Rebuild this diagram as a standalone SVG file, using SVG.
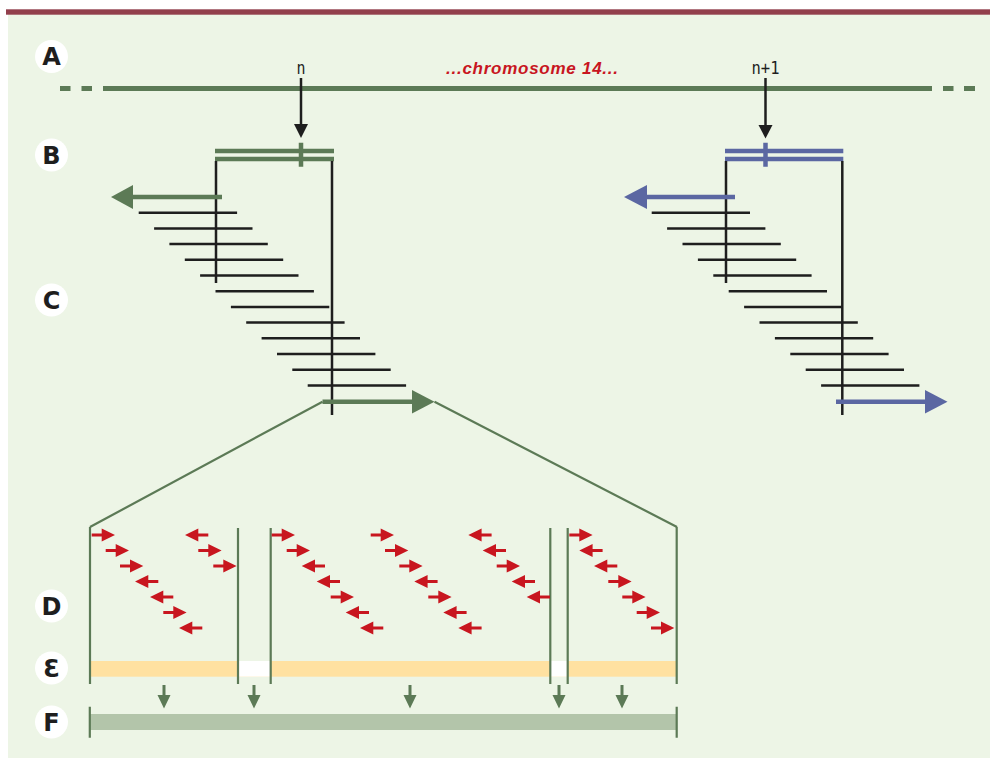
<svg xmlns="http://www.w3.org/2000/svg" xmlns:xlink="http://www.w3.org/1999/xlink" width="990" height="758" viewBox="0 0 990 758">
<defs>
<style>
.lbl-c{fill:#ffffff}
.lbl-t{font-family:"DejaVu Sans","Liberation Sans",sans-serif;font-weight:900;font-size:24px;fill:#1e1e1e;text-anchor:middle}
.chr{stroke:#5c7a56;stroke-width:5;fill:none}
.gr{stroke:#5c7a56;stroke-width:4.5;fill:none}
.bl{stroke:#5b67a2;stroke-width:4.5;fill:none}
.blk{stroke:#1e1e1e;stroke-width:2.5;fill:none}
.zm{stroke:#5c7a56;stroke-width:2.2;fill:none}
.pos{font-family:"DejaVu Sans Mono","Liberation Mono",monospace;font-size:18px;fill:#1e1e1e;text-anchor:middle}
.red{fill:#c8161f}
</style>
<path id="ra" d="M0,-1.6 H10 V-6.6 L23.3,0 L10,6.6 V1.6 H0 Z"/>
<path id="la" d="M23.3,-1.6 H13.3 V-6.6 L0,0 L13.3,6.6 V1.6 H23.3 Z"/>
<path id="da" d="M-1.5,0 H1.5 V10 H6.5 L0,23.5 L-6.5,10 H-1.5 Z"/>
</defs>

<rect x="8" y="14" width="982" height="744" fill="#edf5e6"/>
<rect x="6" y="9.3" width="984" height="5.4" fill="#923f4c"/>

<g id="labels">
<g id="label-A"><circle class="lbl-c" cx="51.5" cy="56.5" r="16.5"/><text class="lbl-t" x="51.5" y="65">A</text></g>
<g id="label-B"><circle class="lbl-c" cx="51.5" cy="155" r="16.5"/><text class="lbl-t" x="51.5" y="163.5">B</text></g>
<g id="label-C"><circle class="lbl-c" cx="51.5" cy="300" r="16.5"/><text class="lbl-t" x="51.5" y="308.5">C</text></g>
<g id="label-D"><circle class="lbl-c" cx="51.5" cy="606" r="16.5"/><text class="lbl-t" x="51.5" y="614.5">D</text></g>
<g id="label-E"><circle class="lbl-c" cx="51.5" cy="668" r="16.5"/><text class="lbl-t" x="51.5" y="676.5">Ɛ</text></g>
<g id="label-F"><circle class="lbl-c" cx="51.5" cy="722" r="16.5"/><text class="lbl-t" x="51.5" y="730.5">F</text></g>
</g>

<g id="chromosome">
<path class="chr" d="M60,88.5 H70.5 M81.5,88.5 H92 M103,88.5 H932 M943,88.5 H953.5 M964,88.5 H975"/>
<text x="532" y="74" text-anchor="middle" textLength="172" lengthAdjust="spacing" font-family="Liberation Sans, Arial, sans-serif" font-weight="bold" font-style="italic" font-size="17" fill="#c8161f">...chromosome 14...</text>
<text class="pos" x="301" y="73.5" textLength="9" lengthAdjust="spacingAndGlyphs">n</text>
<text class="pos" x="765.5" y="73.5" textLength="28" lengthAdjust="spacingAndGlyphs">n+1</text>
</g>

<g id="locus-n">
<path class="gr" d="M215,151 H334 M215,159 H334 M301,142.7 V166.7"/>
<path class="blk" d="M216,161 V283 M332,161 V415"/>
<path class="blk" d="M138.7,212.7 H237.1 M154.1,228.4 H252.5 M169.4,244.1 H267.8 M184.8,259.8 H283.2 M200.1,275.5 H298.5 M215.5,291.2 H313.9 M230.9,306.9 H329.3 M246.2,322.6 H344.6 M261.6,338.3 H360 M277,354 H375.4 M292.3,369.7 H390.7 M307.7,385.4 H406.1"/>
<path class="gr" d="M222,197 H131"/>
<polygon points="111,197 133,185 133,209" fill="#5c7a56"/>
<path class="gr" d="M322.5,401.7 H413"/>
<polygon points="412,390 434.5,401.7 412,413.4" fill="#5c7a56"/>
</g>

<g id="locus-n1">
<path class="bl" d="M725,151 H843.3 M725,159 H843.3 M765.5,142.7 V166.7"/>
<path class="blk" d="M726,161 V283 M842.3,161 V415"/>
<path class="blk" d="M651.7,212.7 H750 M667.1,228.4 H765.4 M682.5,244.1 H780.8 M697.9,259.8 H796.2 M713.3,275.5 H811.6 M728.7,291.2 H827 M744.1,306.9 H842.4 M759.5,322.6 H857.8 M774.9,338.3 H873.2 M790.3,354 H888.6 M805.7,369.7 H904 M821.1,385.4 H919.4"/>
<path class="bl" d="M735,197 H645"/>
<polygon points="624,197 647,185 647,209" fill="#5b67a2"/>
<path class="bl" d="M836,401.7 H927"/>
<polygon points="925,390 947.5,401.7 925,413.4" fill="#5b67a2"/>
</g>

<g id="connectors">
<path class="blk" d="M301,78 V126"/>
<polygon points="294,124 308,124 301,138" fill="#1e1e1e"/>
<path class="blk" d="M765.5,78 V127"/>
<polygon points="758.5,125 772.5,125 765.5,138.5" fill="#1e1e1e"/>
<path class="zm" d="M322.5,401.7 L90,527 M434.5,401.7 L677,527"/>
<g fill="#5c7a56">
<use xlink:href="#da" x="164" y="685"/>
<use xlink:href="#da" x="254" y="685"/>
<use xlink:href="#da" x="410" y="685"/>
<use xlink:href="#da" x="559" y="685"/>
<use xlink:href="#da" x="622" y="685"/>
</g>
</g>

<g id="exon-bar">
<rect x="90" y="661" width="587" height="15.7" fill="#ffe1a1"/>
<rect x="238" y="661" width="32.7" height="15.7" fill="#ffffff"/>
<rect x="550.3" y="661" width="17.4" height="15.7" fill="#ffffff"/>
</g>

<g id="transcript-bar">
<rect x="90" y="714" width="587" height="16" fill="#b3c5aa"/>
<path class="zm" d="M89.8,706.7 V737.7 M676.7,706.7 V737.7"/>
</g>

<g id="segments">
<path class="zm" d="M90,527 V684 M238,528 V684 M270.7,528 V684 M550.3,528 V684 M567.7,528 V684 M676.7,527 V684"/>
</g>

<g id="reads" class="red">
<use xlink:href="#ra" x="91.7" y="535"/>
<use xlink:href="#ra" x="105.7" y="550.5"/>
<use xlink:href="#ra" x="120" y="566"/>
<use xlink:href="#la" x="135" y="581.5"/>
<use xlink:href="#la" x="150" y="597"/>
<use xlink:href="#ra" x="163.3" y="612.5"/>
<use xlink:href="#la" x="179" y="628"/>

<use xlink:href="#la" x="185" y="535"/>
<use xlink:href="#ra" x="198.3" y="550.5"/>
<use xlink:href="#ra" x="213.3" y="566"/>

<use xlink:href="#ra" x="271.7" y="535"/>
<use xlink:href="#ra" x="286.7" y="550.5"/>
<use xlink:href="#la" x="301.7" y="566"/>
<use xlink:href="#la" x="316.7" y="581.5"/>
<use xlink:href="#ra" x="330.7" y="597"/>
<use xlink:href="#la" x="345.7" y="612.5"/>
<use xlink:href="#la" x="360" y="628"/>

<use xlink:href="#ra" x="370.7" y="535"/>
<use xlink:href="#ra" x="385" y="550.5"/>
<use xlink:href="#ra" x="399.3" y="566"/>
<use xlink:href="#la" x="414.3" y="581.5"/>
<use xlink:href="#ra" x="428.3" y="597"/>
<use xlink:href="#la" x="443.3" y="612.5"/>
<use xlink:href="#la" x="458.3" y="628"/>

<use xlink:href="#la" x="468.3" y="535"/>
<use xlink:href="#la" x="482.7" y="550.5"/>
<use xlink:href="#ra" x="496.7" y="566"/>
<use xlink:href="#la" x="511.7" y="581.5"/>
<use xlink:href="#la" x="526.7" y="597"/>

<use xlink:href="#ra" x="569.3" y="535"/>
<use xlink:href="#la" x="579.3" y="550.5"/>
<use xlink:href="#la" x="594" y="566"/>
<use xlink:href="#ra" x="608.3" y="581.5"/>
<use xlink:href="#ra" x="622.3" y="597"/>
<use xlink:href="#ra" x="636.7" y="612.5"/>
<use xlink:href="#ra" x="651" y="628"/>
</g>
</svg>
